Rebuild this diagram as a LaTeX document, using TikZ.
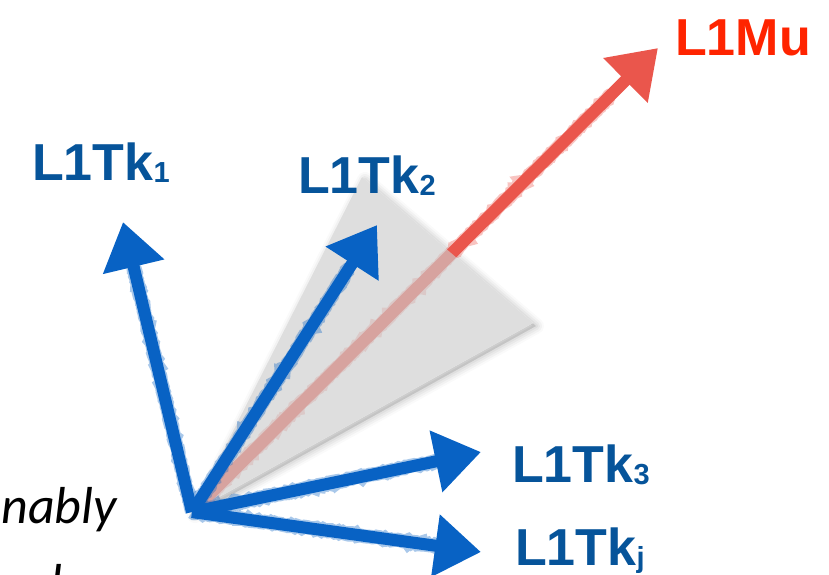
\documentclass[tikz,border=0pt]{standalone}
\usepackage{fontspec}
\setmainfont{Liberation Sans}
\newfontfamily\notefont{Carlito}
\usetikzlibrary{arrows.meta,decorations.pathmorphing,calc}

\definecolor{tkblue}{RGB}{8,98,196}
\definecolor{tktext}{RGB}{6,84,154}
\definecolor{muarrow}{RGB}{234,86,76}
\definecolor{mutext}{RGB}{255,36,0}

\tikzset{
  crayon/.style={line width=12pt, -{Triangle[length=46pt,width=60pt]}},
  fuzz/.style={line width=14pt, opacity=0.35,
    decorate, decoration={random steps, segment length=2pt, amplitude=1pt}},
  lbl/.style={anchor=base west, inner sep=0pt, font=\bfseries\fontsize{52}{60}\selectfont},
}
\newcommand{\sublabel}[1]{{\fontsize{29}{32}\selectfont\raisebox{-2pt}{#1}}}

\begin{document}
\begin{tikzpicture}[x=1pt,y=-1pt]
  \useasboundingbox (0,0) rectangle (829,574);
  \clip (0,0) rectangle (829,574);

  % common origin of all vectors and the tips
  \coordinate (o)   at (192,512);
  \coordinate (t1)  at (123,222);
  \coordinate (t2)  at (377,225);
  \coordinate (mu)  at (658,48);
  \coordinate (t3)  at (481,452);
  \coordinate (tj)  at (481,552);
  % matching cone around the muon direction
  \coordinate (ca)  at (362,177);
  \coordinate (cb)  at (533,323);

  % soft shadow of the cone
  \foreach \w/\op in {16/0.02,12/0.03,8/0.035,4/0.045}{
    \draw[black, opacity=\op, line width=\w pt, line join=round, fill=black]
      ([shift={(3,3)}]o) -- ([shift={(3,3)}]ca) -- ([shift={(3,3)}]cb) -- cycle;
  }
  \fill[white] (o) -- (ca) -- (cb) -- cycle;

  % muon vector
  \draw[muarrow, fuzz] (o) -- ($(o)!0.9!(mu)$);
  \draw[muarrow, crayon] (o) -- (mu);

  % translucent cone on top of the muon vector
  \fill[gray!39, opacity=0.65] (o) -- (ca) -- (cb) -- cycle;

  % track vectors
  \foreach \t in {t1,t2,t3,tj}{
    \draw[tkblue, fuzz] (o) -- ($(o)!0.85!(\t)$);
    \draw[tkblue, crayon] (o) -- (\t);
  }

  % labels
  \node[lbl, text=tktext] (l1) at (32,180)  {L1Tk\sublabel{1}};
  \node[lbl, text=tktext] (l2) at (298,193) {L1Tk\sublabel{2}};
  \node[lbl, text=mutext] (lm) at (675,55)  {L1Mu};
  \node[lbl, text=tktext] (l3) at (512,482) {L1Tk\sublabel{3}};
  \node[lbl, text=tktext] (lj) at (515,565) {L1Tk\sublabel{j}};

  % side note text
  \node[anchor=base east, inner sep=0pt, font=\notefont\itshape\fontsize{52}{60}\selectfont]
    (n1) at (117,523) {nably};
  \node[anchor=base west, inner sep=0pt, font=\notefont\itshape\fontsize{52}{60}\selectfont]
    (n2) at (50,600) {l};
\end{tikzpicture}
\end{document}
